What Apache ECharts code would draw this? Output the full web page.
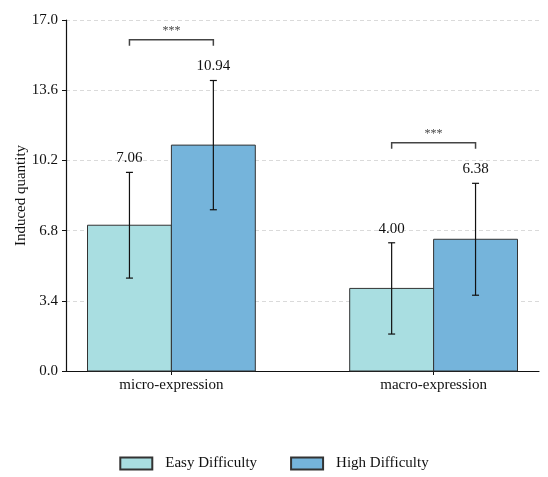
<!DOCTYPE html>
<html>
<head>
<meta charset="utf-8">
<script src="https://cdn.jsdelivr.net/npm/echarts@6/dist/echarts.min.js"></script>
<style>
html,body{margin:0;padding:0;background:#fff;}
#main{width:548px;height:477px;}
</style>
</head>
<body>
<div id="main"></div>
<script>
// ---- data ----
var categories = ['micro-expression', 'macro-expression'];
var seriesNames = ['Easy Difficulty', 'High Difficulty'];
var easyValues = [7.06, 4.00];
var highValues = [10.94, 6.38];
var easyErrors = [2.56, 2.21];
var highErrors = [3.13, 2.71];
var sigLabels = ['***', '***'];
var yTicks = [0, 3.4, 6.8, 10.2, 13.6, 17.0];

var FONT = "'Liberation Serif', 'DejaVu Serif', serif";
var colors = ['#a9dee1', '#75b4db'];
var BAR_W = 0.32;

function barRenderer(offset, color) {
  return function (params, api) {
    var i = api.value(0), v = api.value(1), e = api.value(2);
    var left = i + offset, right = left + BAR_W, mid = left + BAR_W / 2;
    var p0 = api.coord([left, v]);
    var p1 = api.coord([right, 0]);
    var top = api.coord([mid, v + e]);
    var bot = api.coord([mid, v - e]);
    var cap = 3.5;
    return {
      type: 'group',
      children: [
        { type: 'rect', shape: { x: p0[0], y: p0[1], width: p1[0] - p0[0], height: p1[1] - p0[1] },
          style: { fill: color, stroke: '#333', lineWidth: 1 } },
        { type: 'line', shape: { x1: top[0], y1: top[1], x2: bot[0], y2: bot[1] }, style: { stroke: '#111', lineWidth: 1.2 } },
        { type: 'line', shape: { x1: top[0] - cap, y1: top[1], x2: top[0] + cap, y2: top[1] }, style: { stroke: '#111', lineWidth: 1.2 } },
        { type: 'line', shape: { x1: bot[0] - cap, y1: bot[1], x2: bot[0] + cap, y2: bot[1] }, style: { stroke: '#111', lineWidth: 1.2 } },
        { type: 'text', style: { x: top[0], y: top[1] - 14, text: v.toFixed(2), fill: '#111', font: '15px ' + FONT, textAlign: 'center', textVerticalAlign: 'middle' } }
      ]
    };
  };
}

var easyData = categories.map(function (c, i) { return [i, easyValues[i], easyErrors[i]]; });
var highData = categories.map(function (c, i) { return [i, highValues[i], highErrors[i]]; });
var bracketData = categories.map(function (c, i) {
  return [i, Math.max(easyValues[i] + easyErrors[i], highValues[i] + highErrors[i]) + 1.97];
});

var chart = echarts.init(document.getElementById('main'), null, { renderer: 'canvas' });
chart.setOption({
  animation: false,
  backgroundColor: '#fff',
  grid: { left: 66, right: 9, top: 20, bottom: 106, containLabel: false },
  legend: {
    data: seriesNames,
    bottom: 1,
    left: 'center',
    icon: 'rect',
    itemWidth: 32,
    itemHeight: 12,
    itemGap: 33,
    textStyle: { fontFamily: FONT, fontSize: 15, color: '#111', padding: [0, 0, 0, 8] }
  },
  xAxis: {
    type: 'value',
    min: -0.402,
    max: 1.402,
    axisLine: { show: true, onZero: false, lineStyle: { color: '#111', width: 1.2 } },
    axisTick: { show: true, customValues: [0, 1], length: 4, lineStyle: { color: '#111' } },
    axisLabel: { show: true, customValues: [0, 1], fontFamily: FONT, fontSize: 15, color: '#111', margin: 7,
      formatter: function (v) { return categories[Math.round(v)]; } },
    splitLine: { show: false }
  },
  yAxis: {
    type: 'value',
    min: 0,
    max: 17,
    interval: 3.4,
    name: 'Induced quantity',
    nameLocation: 'middle',
    nameGap: 37,
    nameMoveOverlap: false,
    nameTextStyle: { fontFamily: FONT, fontSize: 15, color: '#111' },
    axisLine: { show: true, onZero: false, lineStyle: { color: '#111', width: 1.2 } },
    axisTick: { show: true, length: 4, lineStyle: { color: '#111' } },
    axisLabel: { fontFamily: FONT, fontSize: 15, color: '#111', margin: 8,
      formatter: function (v) { return (+v).toFixed(1); } },
    splitLine: { show: true, lineStyle: { color: '#d0d0d0', type: [4, 3], width: 0.8 } }
  },
  series: [
    { name: seriesNames[0], type: 'custom', renderItem: barRenderer(-BAR_W, colors[0]), data: easyData,
      itemStyle: { color: colors[0], borderColor: '#333', borderWidth: 1 }, z: 3 },
    { name: seriesNames[1], type: 'custom', renderItem: barRenderer(0, colors[1]), data: highData,
      itemStyle: { color: colors[1], borderColor: '#333', borderWidth: 1 }, z: 3 },
    { name: 'sig', type: 'custom', data: bracketData, z: 4,
      renderItem: function (params, api) {
        var i = api.value(0), y = api.value(1);
        var a = api.coord([i - BAR_W / 2, y]);
        var b = api.coord([i + BAR_W / 2, y]);
        return {
          type: 'group',
          children: [
            { type: 'polyline', shape: { points: [[a[0], a[1] + 6], a, b, [b[0], b[1] + 6]] },
              style: { stroke: '#444', lineWidth: 1.5, fill: null } },
            { type: 'text', style: { x: (a[0] + b[0]) / 2, y: a[1] - 9, text: sigLabels[params.dataIndex], fill: '#444',
              font: '12px ' + FONT, textAlign: 'center', textVerticalAlign: 'middle' } }
          ]
        };
      }
    }
  ]
});
</script>
</body>
</html>
